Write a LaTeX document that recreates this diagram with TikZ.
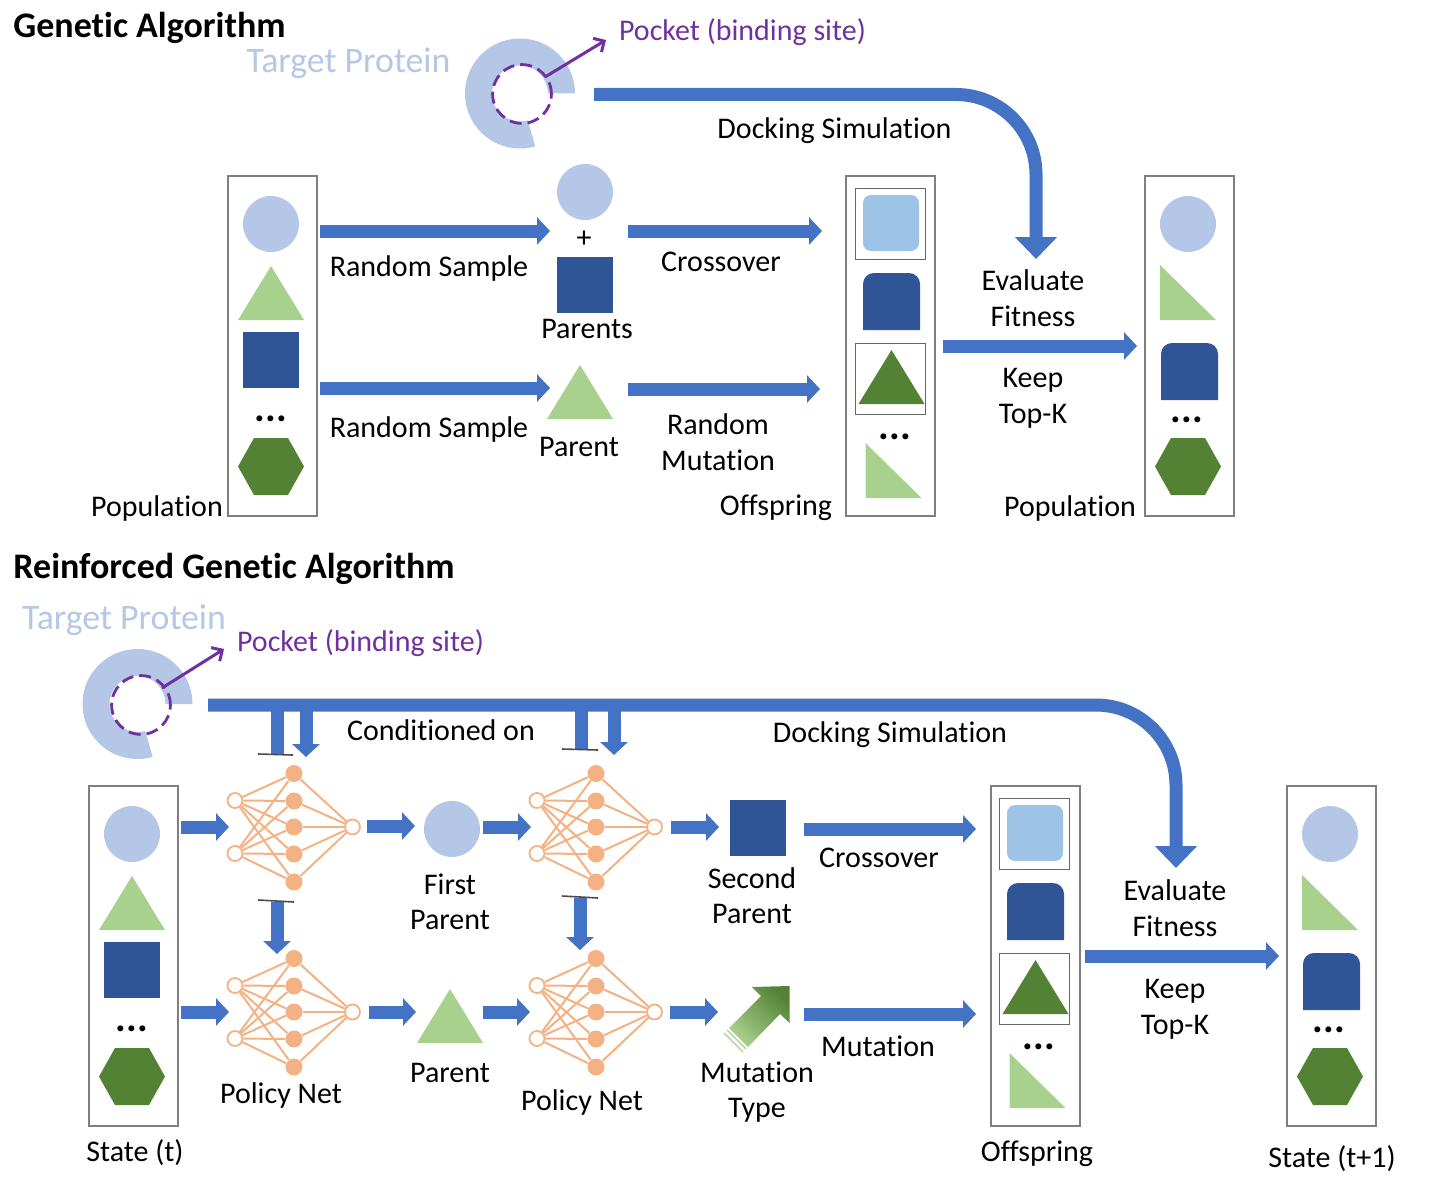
\documentclass[tikz,border=0pt]{standalone}
\usepackage{fontspec}
\setmainfont{Carlito}[Ligatures=NoCommon]
\usetikzlibrary{arrows.meta,calc}
\definecolor{cblue}{HTML}{4472C4}
\definecolor{lblue}{HTML}{B4C7E7}
\definecolor{sky}{HTML}{9DC3E6}
\definecolor{navy}{HTML}{2F5597}
\definecolor{lgreen}{HTML}{A9D18E}
\definecolor{dgreen}{HTML}{548235}
\definecolor{mgreen}{HTML}{70AD47}
\definecolor{purp}{HTML}{7030A0}
\definecolor{orng}{HTML}{F4B183}
\definecolor{boxgray}{HTML}{7F7F7F}
\tikzset{
  lbl/.style={inner sep=0pt,font=\fontsize{15}{18}\selectfont,text=black},
  ttl/.style={inner sep=0pt,anchor=base west,font=\fontsize{18}{21}\selectfont\bfseries},
  tgt/.style={inner sep=0pt,font=\fontsize{17.9}{21}\selectfont,text=lblue},
  pkt/.style={inner sep=0pt,font=\fontsize{15}{18}\selectfont,text=purp},
  dotsn/.style={inner sep=0pt,anchor=base,font=\fontsize{20}{20}\selectfont\bfseries},
  flow/.style={draw=cblue,line width=6.5pt,-{Triangle[length=6.5pt,width=13.5pt]}},
  bigflow/.style={draw=cblue,line width=6.5pt,rounded corners=40pt,-{Triangle[length=11pt,width=20.5pt]}},
  stub/.style={draw=cblue,line width=6.5pt},
  tick/.style={draw=black!70,line width=0.8pt},
  pktarrow/.style={draw=purp,line width=1.5pt,-{Straight Barb[length=4pt,width=8pt]}},
  pktring/.style={draw=purp,line width=1.4pt,dash pattern=on 6pt off 3pt},
  panel/.style={draw=boxgray,line width=0.8pt,minimum width=44.5pt,minimum height=170pt,inner sep=0pt},
  inbox/.style={draw=black!60,line width=0.5pt,minimum width=35pt,minimum height=35.5pt,inner sep=0pt},
  disc/.style={circle,fill=lblue,minimum size=28pt,inner sep=0pt},
  sq/.style={fill=navy,minimum size=28pt,inner sep=0pt},
  ninp/.style={circle,draw=orng,fill=white,line width=0.9pt,minimum size=7.5pt,inner sep=0pt},
  nhid/.style={circle,fill=orng,minimum size=8.5pt,inner sep=0pt},
  nedge/.style={draw=orng,line width=1pt},
  shTri/.pic={\fill[lgreen] (0,-28) -- (33,26) -- (-33,26) -- cycle;},
  shTriD/.pic={\fill[dgreen] (0,-28) -- (33,26) -- (-33,26) -- cycle;},
  shRight/.pic={\fill[lgreen] (-28,-28) -- (-28,27) -- (28,27) -- cycle;},
  shHex/.pic={\fill[dgreen] (-33,0) -- (-17,-28.5) -- (17,-28.5) -- (33,0) -- (17,28.5) -- (-17,28.5) -- cycle;},
  shRound/.pic={\fill[navy] (-28.5,28.5) [rounded corners=5.5pt] -- (-28.5,-28.5) -- (28.5,-28.5) [sharp corners] -- (28.5,28.5) -- cycle;},
}
% ring: #1 name, #2 ring centre, #3 pocket centre
\newcommand{\proteinring}[3]{%
  \coordinate (#1c) at (#2);
  \coordinate (#1p) at (#3);
  \fill[lblue] ($(#1c)+(0:27.5pt)$) arc[start angle=0,end angle=286,radius=27.5pt]
     -- ($(#1c)+(-74:14pt)$) arc[start angle=286,end angle=0,radius=14pt] -- cycle;
  \draw[pktring] (#1p) circle[radius=14.7pt];
}
% network: #1 name prefix, #2 x of input, #3 y offset
\newcommand{\policynet}[3]{%
  \foreach \i/\yy in {1/800.5,2/853.5}
    \node[ninp] (#1i\i) at (#2,\yy+#3) {};
  \foreach \j/\yy in {1/773.5,2/801,3/827,4/854,5/882}
    \node[nhid] (#1h\j) at (#2+59,\yy+#3) {};
  \node[ninp] (#1o) at (#2+117.5,827+#3) {};
  \foreach \i in {1,2} \foreach \j in {1,...,5} \draw[nedge] (#1i\i) -- (#1h\j);
  \foreach \j in {1,...,5} \draw[nedge] (#1h\j) -- (#1o);
}
\newcommand{\offspringcol}[4]{% name, dx, dy, panel x
  \begin{scope}[shift={(#2,#3)}]
    \node[panel] (#1) at (#4,346) {};
    \node[inbox] (#1a) at (890,223.5) {};
    \fill[sky,rounded corners=4pt] (863,195) rectangle (919,251);
    \pic at (891.5,301.5) {shRound};
    \node[inbox] (#1b) at (890.5,379) {};
    \pic at (891.5,378) {shTriD};
    \node[dotsn] (#1d) at (895,439) {...};
    \pic at (893.5,471) {shRight};
  \end{scope}
}
\newcommand{\outcol}[3]{% name, dx, dy
  \begin{scope}[shift={(#2,#3)}]
    \node[panel] (#1) at (1189.5,346) {};
    \node[disc] (#1a) at (1188,224) {};
    \pic at (1188,293) {shRight};
    \pic at (1189.5,371.5) {shRound};
    \node[dotsn] (#1d) at (1187,422) {...};
    \pic at (1188,466.5) {shHex};
  \end{scope}
}
\newcommand{\incol}[3]{% name, dx, dy
  \begin{scope}[shift={(#2,#3)}]
    \node[panel] (#1) at (272.5,346) {};
    \node[disc] (#1a) at (271,224) {};
    \pic at (271,294) {shTri};
    \node[sq] (#1c) at (271,360) {};
    \node[dotsn] (#1d) at (271,421) {...};
    \pic at (271,466.5) {shHex};
  \end{scope}
}
\begin{document}
\begin{tikzpicture}[x=0.5pt,y=-0.5pt]
\useasboundingbox (0,0) rectangle (1440,1188);
% ---------- Genetic algorithm
\node[ttl] (t1) at (13,38) {Genetic Algorithm};
\node[tgt] (tp1) at (348.5,63) {Target Protein};
\proteinring{ra}{520,93.5}{522,94}
\coordinate (ras) at (545,77);
\node[pkt] (pk1) at (742.5,32) {Pocket (binding site)};
\coordinate (rae) at (606,40);
\draw[pktarrow] (ras) -- (rae);
\coordinate (ds1) at (594,94.5);
\coordinate (de1) at (1036,259);
\draw[bigflow] (ds1) -| (de1);
\node[lbl] (dl1) at (834.5,131) {Docking Simulation};

\incol{popA}{0}{0}
\offspringcol{offA}{0}{0}{890.5}
\outcol{popB}{0}{0}

\node[disc] (par1) at (585,192) {};
\node[lbl] (plus) at (584,239) {+};
\node[sq] (par2) at (585,285) {};
\pic at (580,393) {shTri};
\coordinate (a1s) at (320,231); \coordinate (a1e) at (550,231);
\coordinate (a2s) at (320,388); \coordinate (a2e) at (550,388);
\coordinate (a3s) at (628,231); \coordinate (a3e) at (822,231);
\coordinate (a4s) at (628,389); \coordinate (a4e) at (820,389);
\coordinate (a5s) at (943,346); \coordinate (a5e) at (1137,346);
\foreach \k in {1,...,5} \draw[flow] (a\k s) -- (a\k e);
\node[lbl] (l1) at (429,269) {Random Sample};
\node[lbl] (l2) at (429,429) {Random Sample};
\node[lbl] (l3) at (587,329) {Parents};
\node[lbl] (l4) at (579,447) {Parent};
\node[lbl] (l5) at (721,262) {Crossover};
\node[lbl] (l6) at (718,424) {Random};
\node[lbl] (l7) at (718,460) {Mutation};
\node[lbl] (l8) at (157,508) {Population};
\node[lbl] (l9) at (776,508) {Offspring};
\node[lbl] (l10) at (1070,508) {Population};
\node[lbl] (l11) at (1033,280) {Evaluate};
\node[lbl] (l12) at (1033,316) {Fitness};
\node[lbl] (l13) at (1033,380) {Keep};
\node[lbl] (l14) at (1033,416) {Top-K};
% ---------- Reinforced genetic algorithm
\node[ttl] (t2) at (13,578) {Reinforced Genetic Algorithm};
\node[tgt] (tp2) at (124,620) {Target Protein};
\proteinring{rb}{137.5,704}{141,705}
\coordinate (rbs) at (162,688);
\node[pkt] (pk2) at (360.5,643) {Pocket (binding site)};
\coordinate (rbe) at (224,649);
\draw[pktarrow] (rbs) -- (rbe);
\coordinate (ds2) at (208,705);
\coordinate (de2) at (1176,868);
% stubs and conditioning arrows
\coordinate (c1) at (277,705); \coordinate (c1e) at (277,754);
\coordinate (c2) at (306,705); \coordinate (c2e) at (306,757);
\coordinate (c3) at (581,705); \coordinate (c3e) at (581,750);
\coordinate (c4) at (614,705); \coordinate (c4e) at (614,755);
\draw[stub] (c1) -- (c1e);
\draw[stub] (c3) -- (c3e);
\draw[flow] (c2) -- (c2e);
\draw[flow] (c4) -- (c4e);
\draw[tick] (258,754) -- (293,755);
\draw[tick] (562,749) -- (598,750);
\draw[bigflow] (ds2) -| (de2);
\node[lbl] (cl) at (441,730) {Conditioned on};
\node[lbl] (dl2) at (890,735) {Docking Simulation};

\policynet{na}{235}{0}
\policynet{nb}{537}{0}
\policynet{nc}{235}{185}
\policynet{nd}{537}{185}
\coordinate (v1s) at (277,902); \coordinate (v1e) at (277,954);
\coordinate (v2s) at (580,898); \coordinate (v2e) at (580,950);
\draw[flow] (v1s) -- (v1e);
\draw[flow] (v2s) -- (v2e);
\draw[tick] (258,900) -- (294,902);
\draw[tick] (562,896) -- (598,898);

\incol{stA}{-139}{610}
\offspringcol{offB}{144}{610}{891.5}
\outcol{stB}{142}{610}

\node[disc] (fp) at (452,829) {};
\node[sq] (sp) at (758,828) {};
\pic at (450,1017) {shTri};
% mutation type arrow
\shade[top color=dgreen,middle color=mgreen,bottom color=lgreen,shading angle=-45]
  (789.5,986) -- (752,987) -- (761,996) -- (729,1028) -- (748,1047) -- (780,1014) -- (789.5,1023) -- cycle;
\draw[lgreen,line width=0.7pt] (727,1030) -- (746,1049);
\draw[lgreen,line width=0.7pt] (724,1033) -- (743,1052);

\coordinate (b1s) at (181,827); \coordinate (b1e) at (229,827);
\coordinate (b2s) at (367,826); \coordinate (b2e) at (415,826);
\coordinate (b3s) at (483,827); \coordinate (b3e) at (531,827);
\coordinate (b4s) at (671,827); \coordinate (b4e) at (719,827);
\coordinate (b5s) at (804,829); \coordinate (b5e) at (976,829);
\coordinate (b6s) at (181,1012); \coordinate (b6e) at (229,1012);
\coordinate (b7s) at (369,1012); \coordinate (b7e) at (416,1012);
\coordinate (b8s) at (483,1012); \coordinate (b8e) at (530,1012);
\coordinate (b9s) at (670,1012); \coordinate (b9e) at (718,1012);
\coordinate (b10s) at (804,1014); \coordinate (b10e) at (976,1014);
\coordinate (b11s) at (1085,956); \coordinate (b11e) at (1279,956);
\foreach \k in {1,...,11} \draw[flow] (b\k s) -- (b\k e);

\node[lbl] (m1) at (450,884) {First};
\node[lbl] (m2) at (450,920) {Parent};
\node[lbl] (m3) at (752,878) {Second};
\node[lbl] (m4) at (752,914) {Parent};
\node[lbl] (m5) at (879,858) {Crossover};
\node[lbl] (m6) at (878,1046) {Mutation};
\node[lbl] (m7) at (281,1095) {Policy Net};
\node[lbl] (m8) at (582,1102) {Policy Net};
\node[lbl] (m9) at (450,1073) {Parent};
\node[lbl] (m10) at (757,1072) {Mutation};
\node[lbl] (m11) at (757,1110) {Type};
\node[lbl] (m12) at (135,1153) {State (t)};
\node[lbl] (m13) at (1037,1154) {Offspring};
\node[lbl] (m14) at (1332,1159) {State (t+1)};
\node[lbl] (m15) at (1175,890) {Evaluate};
\node[lbl] (m16) at (1175,926) {Fitness};
\node[lbl] (m17) at (1175,991) {Keep};
\node[lbl] (m18) at (1175,1027) {Top-K};
\end{tikzpicture}
\end{document}
